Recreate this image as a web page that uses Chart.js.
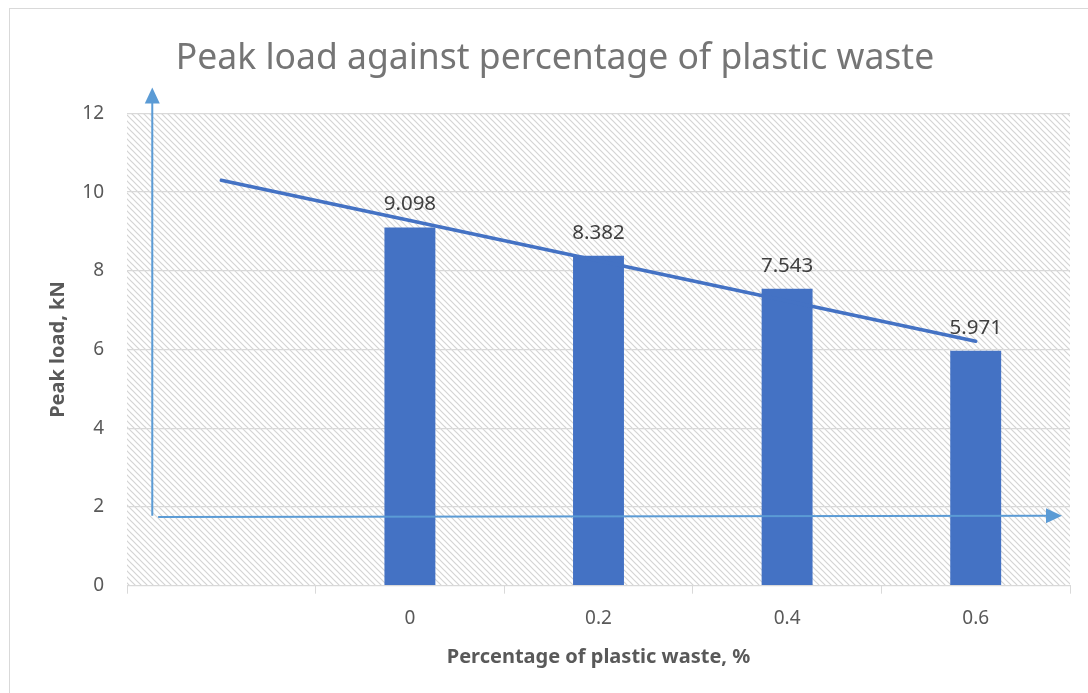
<!DOCTYPE html>
<html>
<head>
<meta charset="utf-8">
<script src="https://cdn.jsdelivr.net/npm/chart.js@4.4.1/dist/chart.umd.min.js"></script>
<style>
  html, body { margin: 0; padding: 0; background: #ffffff; }
  #wrap { width: 1088px; height: 693px; }
</style>
</head>
<body>
<div id="wrap"><canvas id="c" width="1088" height="693"></canvas></div>
<script>
// ---- data ----
const categories = ['', '0', '0.2', '0.4', '0.6'];
const peakLoad = [null, 9.098, 8.382, 7.543, 5.971];
const trendLine = [10.30, null, null, null, 6.21];
const dataLabels = ['', '9.098', '8.382', '7.543', '5.971'];
const yTicks = [0, 2, 4, 6, 8, 10, 12];

function makeHatch(ctx) {
  const s = 6;
  const c = document.createElement('canvas');
  c.width = s; c.height = s;
  const g = c.getContext('2d');
  g.fillStyle = '#ffffff';
  g.fillRect(0, 0, s, s);
  g.strokeStyle = '#d4d4d4';
  g.lineWidth = 1.2;
  g.beginPath();
  g.moveTo(-1, -1); g.lineTo(s + 1, s + 1);
  g.moveTo(-1, s - 1); g.lineTo(1, s + 1);
  g.moveTo(s - 1, -1); g.lineTo(s + 1, 1);
  g.stroke();
  return ctx.createPattern(c, 'repeat');
}

const decorPlugin = {
  id: 'decor',
  beforeDraw(chart) {
    const ctx = chart.ctx;
    const a = chart.chartArea;
    ctx.save();
    ctx.fillStyle = '#ffffff';
    ctx.fillRect(0, 0, chart.width, chart.height);
    ctx.strokeStyle = '#d9d9d9';
    ctx.lineWidth = 1;
    ctx.strokeRect(9.5, 8.5, chart.width + 20, chart.height + 20);
    ctx.fillStyle = makeHatch(ctx);
    ctx.fillRect(a.left, a.top, a.right - a.left, a.bottom - a.top);
    ctx.restore();
  },
  afterDatasetsDraw(chart) {
    const ctx = chart.ctx;
    const xs = chart.scales.x, ys = chart.scales.y;
    // data labels
    const meta = chart.getDatasetMeta(0);
    ctx.save();
    ctx.font = '20.5px "Noto Sans"';
    ctx.fillStyle = '#404040';
    ctx.textAlign = 'center';
    ctx.textBaseline = 'middle';
    meta.data.forEach((bar, i) => {
      if (peakLoad[i] == null) return;
      ctx.fillText(dataLabels[i], bar.x, bar.y - 23);
    });
    ctx.restore();

    // arrows (drawn shapes)
    ctx.save();
    ctx.strokeStyle = '#5b9bd5';
    ctx.fillStyle = '#5b9bd5';
    ctx.lineWidth = 2;
    const vx = xs.getPixelForDecimal(0.0268);
    const vyBottom = ys.getPixelForValue(1.78);
    const vyTip = ys.getPixelForValue(12.66);
    ctx.beginPath();
    ctx.moveTo(vx, vyBottom);
    ctx.lineTo(vx, vyTip + 14);
    ctx.stroke();
    ctx.beginPath();
    ctx.moveTo(vx, vyTip);
    ctx.lineTo(vx - 7.5, vyTip + 16);
    ctx.lineTo(vx + 7.5, vyTip + 16);
    ctx.closePath();
    ctx.fill();

    const hx0 = xs.getPixelForDecimal(0.033);
    const hxTip = xs.getPixelForDecimal(0.9915);
    const hy0 = ys.getPixelForValue(1.745);
    const hy1 = ys.getPixelForValue(1.778);
    const ang = Math.atan2(hy1 - hy0, hxTip - hx0);
    ctx.beginPath();
    ctx.moveTo(hx0, hy0);
    ctx.lineTo(hxTip - 14 * Math.cos(ang), hy1 - 14 * Math.sin(ang));
    ctx.stroke();
    ctx.beginPath();
    ctx.moveTo(hxTip, hy1);
    ctx.lineTo(hxTip - 16 * Math.cos(ang) + 7.5 * Math.sin(ang), hy1 - 16 * Math.sin(ang) - 7.5 * Math.cos(ang));
    ctx.lineTo(hxTip - 16 * Math.cos(ang) - 7.5 * Math.sin(ang), hy1 - 16 * Math.sin(ang) + 7.5 * Math.cos(ang));
    ctx.closePath();
    ctx.fill();
    ctx.restore();
  }
};

new Chart(document.getElementById('c'), {
  type: 'bar',
  data: {
    labels: categories,
    datasets: [
      {
        type: 'bar',
        data: peakLoad,
        backgroundColor: '#4472c4',
        borderWidth: 0,
        categoryPercentage: 1,
        barPercentage: 0.27,
        order: 2
      },
      {
        type: 'line',
        data: trendLine,
        borderColor: '#4472c4',
        borderWidth: 3.5,
        borderCapStyle: 'round',
        pointRadius: 0,
        spanGaps: true,
        fill: false,
        order: 1
      }
    ]
  },
  plugins: [decorPlugin],
  options: {
    responsive: false,
    devicePixelRatio: 1,
    animation: false,
    events: [],
    layout: { padding: { left: 40, right: 18, top: 0, bottom: 0 } },
    plugins: {
      legend: { display: false },
      tooltip: { enabled: false },
      title: {
        display: true,
        text: 'Peak load against percentage of plastic waste',
        color: '#757575',
        font: { family: '"Noto Sans"', size: 35.5, weight: 'normal', lineHeight: 1.2 },
        padding: { top: 38, bottom: 32.8 }
      }
    },
    scales: {
      x: {
        grid: {
          display: true,
          drawOnChartArea: false,
          drawTicks: true,
          tickLength: 8,
          color: '#d9d9d9',
          offset: true
        },
        border: { display: true, color: '#d9d9d9', width: 1 },
        ticks: {
          color: '#595959',
          font: { family: '"Noto Sans"', size: 19 },
          padding: 13,
          maxRotation: 0,
          autoSkip: false
        },
        title: {
          display: true,
          text: 'Percentage of plastic waste, %',
          color: '#595959',
          font: { family: '"Noto Sans"', size: 20, weight: 'bold', lineHeight: 1.2 },
          padding: { top: 0, bottom: 24 }
        },
        afterFit(scale) { scale.height = 107.3; }
      },
      y: {
        min: 0,
        max: 12,
        afterBuildTicks(scale) { scale.ticks = yTicks.map(v => ({ value: v })); },
        grid: {
          color: '#d9d9d9',
          lineWidth: 1.3,
          drawTicks: false
        },
        border: { display: false },
        ticks: {
          color: '#595959',
          font: { family: '"Noto Sans"', size: 19 },
          padding: 23
        },
        title: {
          display: true,
          text: 'Peak load, kN',
          color: '#595959',
          font: { family: '"Noto Sans"', size: 20, weight: 'bold', lineHeight: 1.2 },
          padding: { top: 6, bottom: 0 }
        },
        afterFit(scale) { scale.width = 87; }
      }
    }
  }
});
</script>
</body>
</html>
